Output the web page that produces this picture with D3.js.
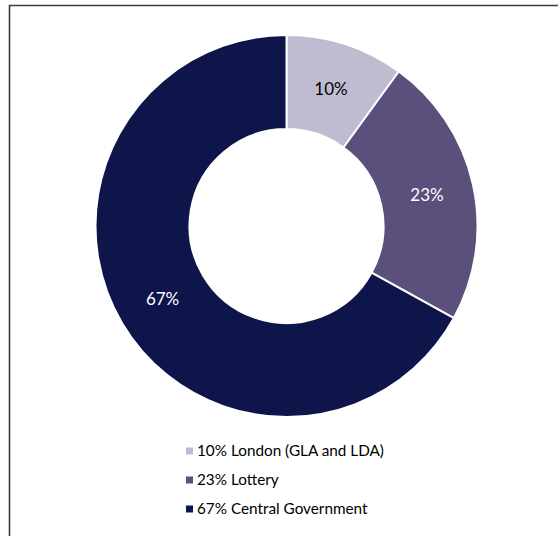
<!DOCTYPE html>
<html><head><meta charset="utf-8">
<script src="https://cdn.jsdelivr.net/npm/d3@7"></script>
<style>html,body{margin:0;padding:0;background:#fff;}</style>
</head><body>
<script>
const categories = ["London (GLA and LDA)", "Lottery", "Central Government"];
const values = [10, 23, 67];
const colors = ["#bfbcd2", "#5b4f7b", "#0e154b"];
const labelColors = ["#000000", "#ffffff", "#ffffff"];

const W = 558, H = 536;
const svg = d3.select("body").append("svg").attr("width", W).attr("height", H);
svg.append("rect").attr("width", W).attr("height", H).attr("fill", "#fff");

// frame
svg.append("path").attr("d", `M9.5,${H+2} V5.5 H${W+2}`).attr("fill", "none")
  .attr("stroke", "#3a3a3a").attr("stroke-width", 1.6);

const cx = 286.5, cy = 226, R = 191, r = 97;
const pie = d3.pie().value(d => d).sort(null);
const arcs = pie(values);
const arc = d3.arc().innerRadius(r).outerRadius(R);
const labelArc = d3.arc().innerRadius((r + R) / 2).outerRadius((r + R) / 2);

const g = svg.append("g").attr("transform", `translate(${cx},${cy})`);
g.selectAll("path.slice").data(arcs).join("path")
  .attr("class", "slice")
  .attr("d", arc)
  .attr("fill", (d, i) => colors[i])
  .attr("stroke", "#fff").attr("stroke-width", 2).attr("stroke-linejoin", "round");

g.selectAll("text.lbl").data(arcs).join("text")
  .attr("class", "lbl")
  .attr("transform", d => `translate(${labelArc.centroid(d)})`)
  .attr("text-anchor", "middle").attr("dy", "0.35em")
  .attr("font-family", "Lato, 'Open Sans', sans-serif").attr("font-size", 17)
  .attr("fill", (d, i) => labelColors[i])
  .text(d => d.data + "%");

// legend
const legend = svg.append("g");
const rows = legend.selectAll("g").data(categories).join("g")
  .attr("transform", (d, i) => `translate(186,${451 + i * 29})`);
rows.append("rect").attr("x", 0).attr("y", -3.5).attr("width", 7).attr("height", 7)
  .attr("fill", (d, i) => colors[i]);
rows.append("text").attr("x", 11).attr("dy", "0.35em")
  .attr("font-family", "Lato, 'Open Sans', sans-serif").attr("font-size", 15.3)
  .attr("fill", "#000")
  .text((d, i) => `${values[i]}% ${d}`);
</script>
</body></html>
